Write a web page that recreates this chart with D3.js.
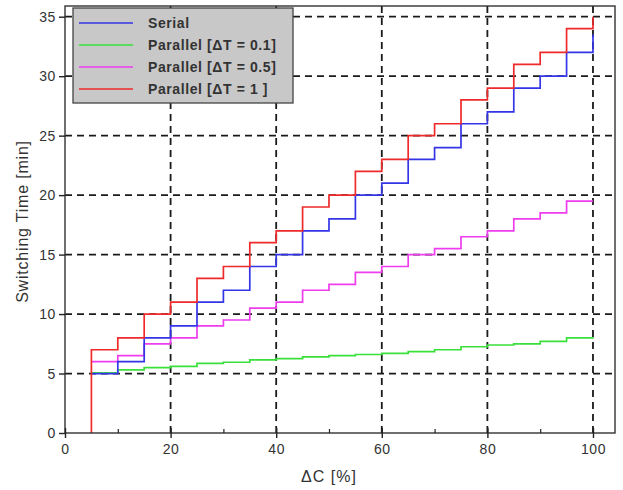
<!DOCTYPE html>
<html><head><meta charset="utf-8">
<script src="https://cdn.jsdelivr.net/npm/d3@7"></script>
<style>body{margin:0;background:#fff}text{font-family:"Liberation Sans",Arial,sans-serif}</style>
</head><body><svg id="c" width="623" height="490"></svg>
<script>
const xSteps = [5,10,15,20,25,30,35,40,45,50,55,60,65,70,75,80,85,90,95,100];
const serial = [5,6,8,9,11,12,14,15,17,18,20,21,23,24,26,27,29,30,32,33.5];
const par01 = [5.05,5.3,5.5,5.6,5.85,5.95,6.15,6.25,6.4,6.5,6.6,6.7,6.85,7.0,7.25,7.4,7.5,7.7,8.0,8.05];
const par05 = [6,6.5,7.5,8,9,9.5,10.5,11,12,12.5,13.5,14,15,15.5,16.5,17,18,18.5,19.5,19.5];
const par1 = [7,8,10,11,13,14,16,17,19,20,22,23,25,26,28,29,31,32,34,35];
const par1Start = 0;
const xTicks = [0,20,40,60,80,100];
const xMinor = [10,30,50,70,90];
const yTicks = [0,5,10,15,20,25,30,35];
const names = ["Serial","Parallel [\u0394T = 0.1]","Parallel [\u0394T = 0.5]","Parallel [\u0394T = 1 ]"];
const colors = ["#3535e8","#3ae03a","#ee3cee","#ee2a2a"];

const svg = d3.select("#c");
const L=65,R=615,T=6,B=433;
const x = d3.scaleLinear().domain([0,104.17]).range([L,R]);
const y = d3.scaleLinear().domain([0,35.9]).range([B,T]);

// grid
const g = svg.append("g");
g.selectAll("line.gx").data(xTicks.slice(1)).join("line")
  .attr("x1",d=>x(d)).attr("x2",d=>x(d)).attr("y1",T).attr("y2",B)
  .attr("stroke","#1a1a1a").attr("stroke-width",1.8).attr("stroke-dasharray","7,5");
g.selectAll("line.gy").data(yTicks.slice(1)).join("line")
  .attr("y1",d=>y(d)).attr("y2",d=>y(d)).attr("x1",L).attr("x2",R)
  .attr("stroke","#1a1a1a").attr("stroke-width",1.8).attr("stroke-dasharray","7,5");

// series
const series = [
  {pts: xSteps.map((v,i)=>[v,par01[i]]), c: colors[1]},
  {pts: xSteps.map((v,i)=>[v,par05[i]]), c: colors[2]},
  {pts: xSteps.map((v,i)=>[v,serial[i]]), c: colors[0]},
  {pts: [[xSteps[0],par1Start]].concat(xSteps.map((v,i)=>[v,par1[i]])), c: colors[3]}
];
const line = d3.line().x(d=>x(d[0])).y(d=>y(d[1])).curve(d3.curveStepAfter);
svg.selectAll("path.s").data(series).join("path")
  .attr("d",d=>line(d.pts)).attr("fill","none").attr("stroke",d=>d.c).attr("stroke-width",1.7);

// frame
svg.append("rect").attr("x",L).attr("y",T).attr("width",R-L).attr("height",B-T)
  .attr("fill","none").attr("stroke","#333").attr("stroke-width",1.4);

// axes
const ax = svg.append("g").attr("transform",`translate(0,${B})`)
  .call(d3.axisBottom(x).tickValues(xTicks).tickSize(5).tickSizeOuter(0).tickPadding(6));
ax.select(".domain").remove();
ax.selectAll(".tick line").attr("y1",-5).attr("stroke","#222").attr("stroke-width",1.4);
ax.selectAll("text").attr("font-size",14).attr("letter-spacing",0.6).attr("fill","#333");
const axm = svg.append("g").attr("transform",`translate(0,${B})`)
  .call(d3.axisBottom(x).tickValues(xMinor).tickSize(0).tickFormat(""));
axm.select(".domain").remove();
axm.selectAll(".tick line").attr("y1",-4).attr("y2",0).attr("stroke","#222").attr("stroke-width",1.2);

const ay = svg.append("g").attr("transform",`translate(${L},0)`)
  .call(d3.axisLeft(y).tickValues(yTicks).tickSize(6).tickSizeOuter(0).tickPadding(3));
ay.select(".domain").remove();
ay.selectAll(".tick line").attr("stroke","#222").attr("stroke-width",1.4);
ay.selectAll("text").attr("font-size",14).attr("letter-spacing",0.6).attr("fill","#333");

svg.append("text").attr("x",x(50)).attr("y",482).attr("text-anchor","middle")
  .attr("font-size",16).attr("letter-spacing",1).attr("fill","#333").text("\u0394C [%]");
svg.append("text").attr("transform",`translate(28,${(T+B)/2+2}) rotate(-90)`)
  .attr("text-anchor","middle").attr("font-size",16).attr("letter-spacing",0.8).attr("fill","#333").text("Switching Time [min]");

// legend
const lg = svg.append("g");
lg.append("rect").attr("x",73).attr("y",8).attr("width",220).attr("height",95)
  .attr("fill","#c8c8c8").attr("stroke","#444").attr("stroke-width",1.3);
const items = lg.selectAll("g.it").data(names).join("g")
  .attr("transform",(d,i)=>`translate(0,${23+i*22})`);
items.append("line").attr("x1",79).attr("x2",133).attr("y1",0).attr("y2",0)
  .attr("stroke",(d,i)=>colors[i]).attr("stroke-width",1.7);
items.append("text").attr("x",148).attr("y",5).attr("font-size",14).attr("letter-spacing",0.6).attr("font-weight","bold")
  .attr("fill","#333").text(d=>d);
</script></body></html>
